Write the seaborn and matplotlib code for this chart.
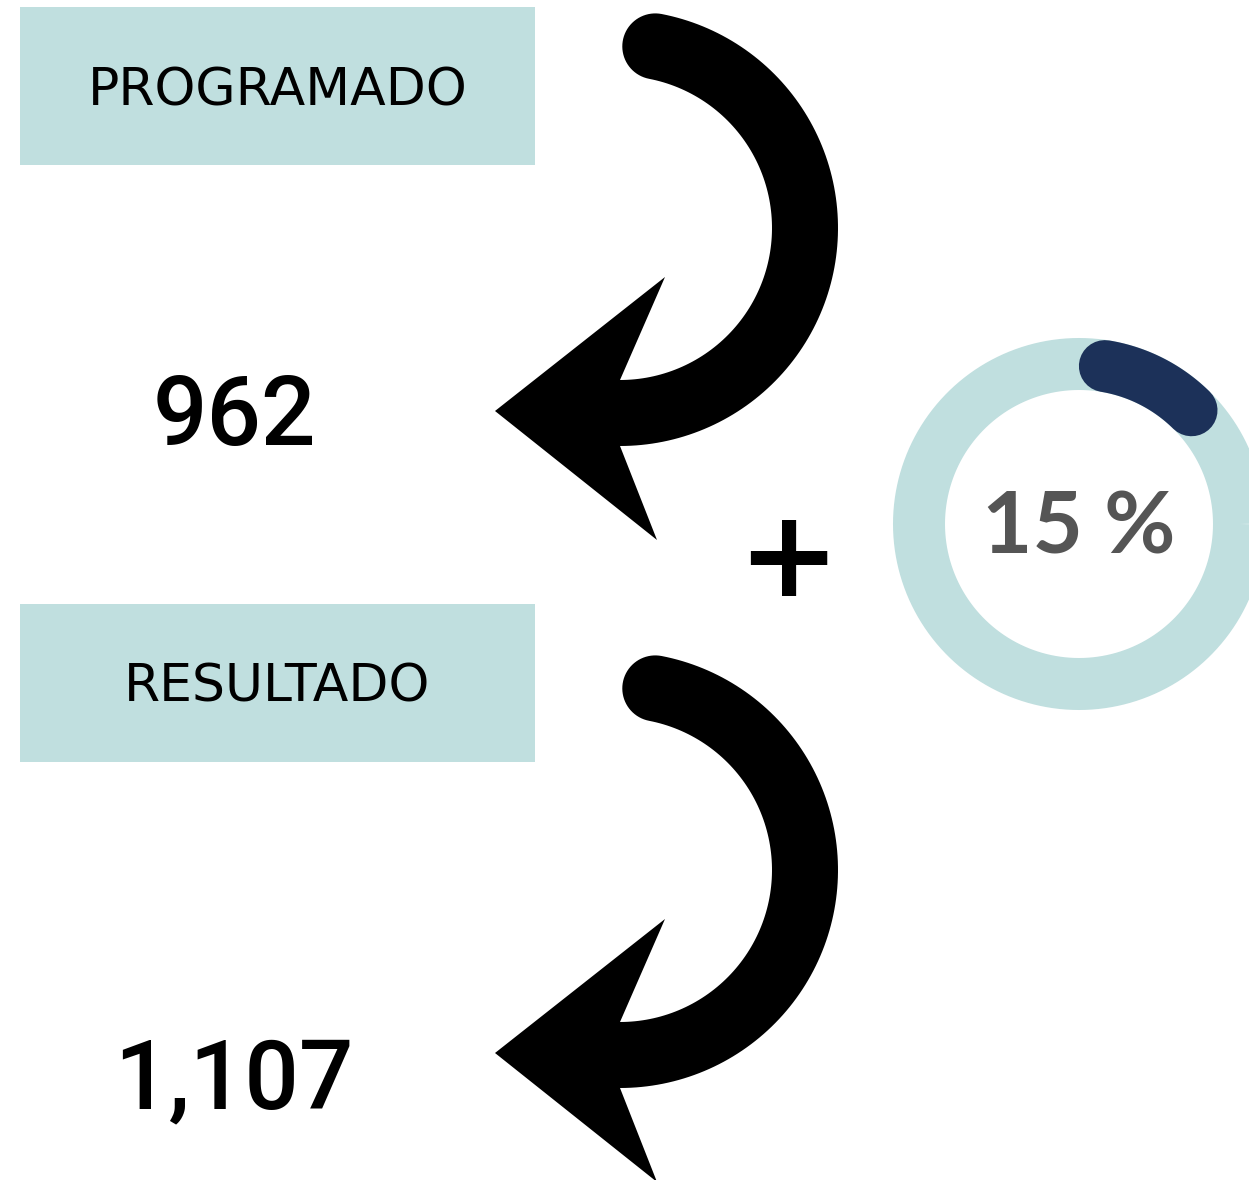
import numpy as np
import matplotlib
matplotlib.use("Agg")
import matplotlib.pyplot as plt
import seaborn as sns
from matplotlib.patches import Rectangle, Polygon

# ============================================================
# Data
# ============================================================

labels = ["PROGRAMADO", "RESULTADO"]
values = [962, 1107]
increase_pct = 15

# ============================================================
# Style
# ============================================================

sns.set_theme(style="white")
plt.rcParams["font.family"] = ["DejaVu Sans"]

BOX_COLOR = "#c0dfdf"
RING_COLOR = "#c0dfdf"
ARC_COLOR = "#1c3159"
PCT_COLOR = "#555555"

W, H = 1249, 1180
fig = plt.figure(figsize=(W / 100, H / 100), dpi=100)
ax = fig.add_axes([0, 0, 1, 1])
ax.set_xlim(0, W)
ax.set_ylim(H, 0)
ax.axis("off")

PX = 0.72  # pixels -> points


def curved_arrow(dy):
    # thick arc, round tail, arrowhead pointing left
    cx, cy = 620, 228 + dy
    r_out, r_in = 218, 152
    r_mid = (r_out + r_in) / 2
    hw = (r_out - r_in) / 2
    t0, t1 = np.radians(79), np.radians(-90)
    ts = np.linspace(t0, t1, 120)
    outer = np.c_[cx + r_out * np.cos(ts), cy - r_out * np.sin(ts)]
    inner = np.c_[cx + r_in * np.cos(ts), cy - r_in * np.sin(ts)][::-1]
    head = np.array([[657, 540 + dy], [495, 411 + dy], [665, 277 + dy]])
    p0 = np.array([cx + r_mid * np.cos(t0), cy - r_mid * np.sin(t0)])
    u = np.array([np.cos(t0), -np.sin(t0)])
    v = np.array([-np.sin(t0), -np.cos(t0)])
    phi = np.linspace(np.pi, 0, 40)
    cap = p0 + hw * (np.cos(phi)[:, None] * u + np.sin(phi)[:, None] * v)
    pts = np.vstack([outer, head, inner, cap])
    ax.add_patch(Polygon(pts, closed=True, facecolor="black", edgecolor="none"))


# ============================================================
# Label boxes, values and arrows
# ============================================================

box_tops = [7, 604]
label_base = [105, 702]
value_base = [445, 1108]
arrow_dy = [0, 642]

for label, val, top, lb, vb, ady in zip(labels, values, box_tops,
                                        label_base, value_base, arrow_dy):
    ax.add_patch(Rectangle((20, top), 515, 158, facecolor=BOX_COLOR, edgecolor="none"))
    ax.text(277.5, lb, label, ha="center", va="baseline",
            fontsize=52 * PX, color="black")
    ax.text(234, vb, f"{val:,}", ha="center", va="baseline",
            fontsize=96 * PX, color="black", fontweight="medium",
            family=["Roboto", "DejaVu Sans"])
    curved_arrow(ady)

# plus sign
ax.text(788, 562, "+", ha="center", va="center", fontsize=122 * PX,
        fontweight="bold", color="black")

# ============================================================
# Donut
# ============================================================

dcx, dcy = 1079, 524
r_mid = 160
ring_w = 52 * PX

t = np.linspace(0, 2 * np.pi, 361)
ax.plot(dcx + r_mid * np.cos(t), dcy - r_mid * np.sin(t),
        color=RING_COLOR, lw=ring_w, solid_capstyle="butt")

cap_deg = np.degrees(26 / r_mid)
span = increase_pct / 100 * 360
a = np.radians(np.linspace(cap_deg, span - cap_deg, 60))  # clockwise from top
sns.lineplot(x=dcx + r_mid * np.sin(a), y=dcy - r_mid * np.cos(a),
             sort=False, estimator=None, color=ARC_COLOR, lw=ring_w,
             solid_capstyle="round", ax=ax)

ax.text(dcx, 553, f"{increase_pct} %", ha="center", va="baseline",
        fontsize=87 * PX, fontweight="bold", color=PCT_COLOR,
        family=["Lato", "DejaVu Sans"])

ax.set_xlim(0, W)
ax.set_ylim(H, 0)
ax.axis("off")

fig.savefig("out.png", dpi=100)
